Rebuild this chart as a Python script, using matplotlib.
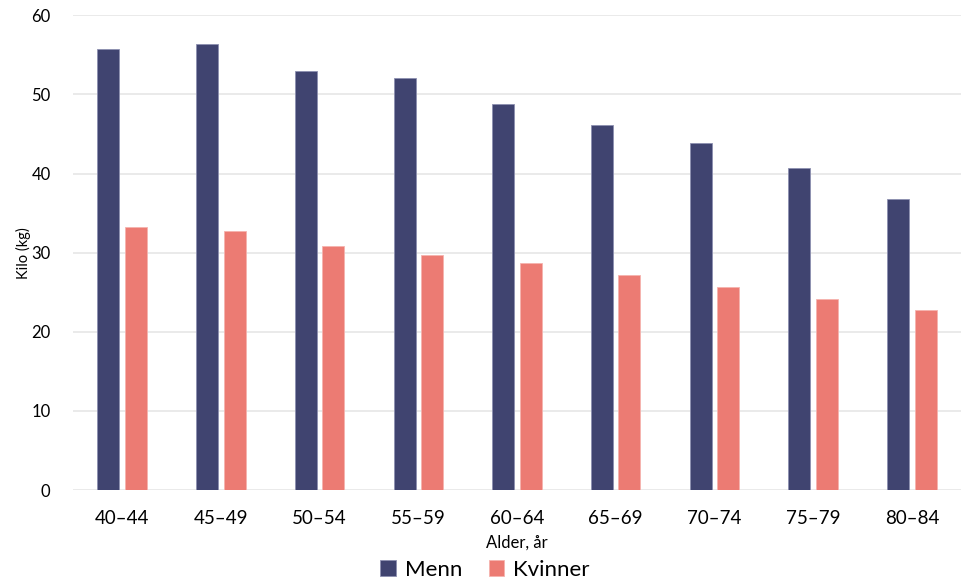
import matplotlib.pyplot as plt
import numpy as np

# Data
groups = ['40–44', '45–49', '50–54', '55–59', '60–64', '65–69', '70–74', '75–79', '80–84']
menn = [55.7, 56.4, 53.0, 52.1, 48.8, 46.1, 43.85, 40.7, 36.8]
kvinner = [33.2, 32.7, 30.8, 29.7, 28.7, 27.2, 25.7, 24.2, 22.7]

plt.rcParams['font.family'] = ['Lato', 'DejaVu Sans']

fig = plt.figure(figsize=(9.7, 5.87), dpi=100)
ax = fig.add_axes([0.075, 0.165, 0.916, 0.809])

x = np.arange(len(groups))
w = 0.223
off = 0.139
ax.bar(x - off, menn, w, color='#404470', edgecolor='#8d90b0', linewidth=0.6, label='Menn', zorder=3)
ax.bar(x + off, kvinner, w, color='#ec7b73', edgecolor='#f5b3ae', linewidth=0.6, label='Kvinner', zorder=3)

ax.set_xlim(-0.5, len(groups) - 0.5)
ax.set_ylim(0, 60)
ax.set_yticks(range(0, 61, 10))
ax.set_xticks(x)
ax.set_xticklabels(groups, fontsize=13.5)
ax.tick_params(axis='y', labelsize=12, length=0, pad=16)
ax.tick_params(axis='x', length=0, pad=14)
ax.grid(axis='y', color='#e6e6e6', linewidth=1.2, zorder=0)
for s in ax.spines.values():
    s.set_visible(False)

ax.set_xlabel('Alder, år', fontsize=12, labelpad=6)
ax.set_ylabel('Kilo (kg)', fontsize=10.5, labelpad=0)

fig.legend(loc='lower center', bbox_to_anchor=(0.5, -0.01), ncol=2, frameon=False,
           fontsize=16, handlelength=0.7, handleheight=0.7, handletextpad=0.4,
           columnspacing=1.2, borderaxespad=0.2)

fig.savefig('out.png', dpi=100)
